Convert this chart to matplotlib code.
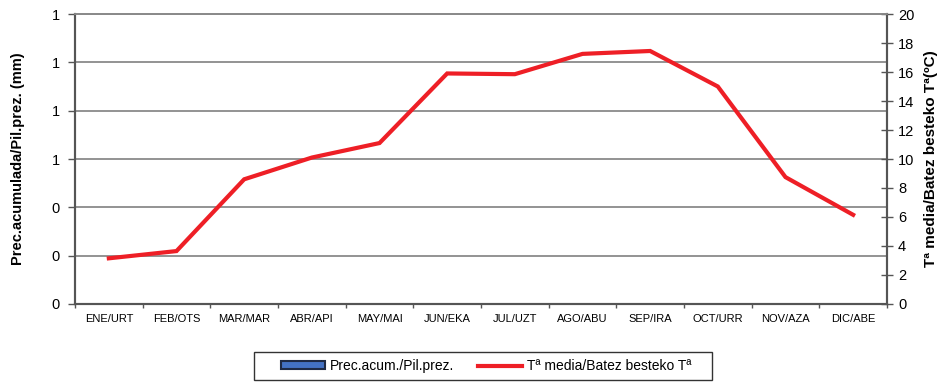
import matplotlib
matplotlib.use("Agg")
import matplotlib.pyplot as plt
import numpy as np
from matplotlib.patches import Patch, Rectangle
from matplotlib.lines import Line2D
from matplotlib.ticker import FormatStrFormatter, MultipleLocator

plt.rcParams["font.family"] = ["Liberation Sans", "DejaVu Sans"]

# ── Data ──────────────────────────────────────────────────────────────────────
months = ["ENE/URT", "FEB/OTS", "MAR/MAR", "ABR/API", "MAY/MAI", "JUN/EKA",
          "JUL/UZT", "AGO/ABU", "SEP/IRA", "OCT/URR", "NOV/AZA", "DIC/ABE"]
precip = [0, 0, 0, 0, 0, 0, 0, 0, 0, 0, 0, 0]
temp = [3.15, 3.65, 8.6, 10.1, 11.1, 15.9, 15.85, 17.25, 17.45, 15.0, 8.75, 6.15]

# ── Colours ───────────────────────────────────────────────────────────────────
RED = "#ee1f26"
BAR_FILL = "#4472c4"
BAR_EDGE = "#1f2a44"
GRID = "#8a8a8a"
SPINE = "#555555"

fig = plt.figure(figsize=(9.4, 3.83), dpi=100)
ax = fig.add_axes([0.0798, 0.2063, 0.8638, 0.7571])
ax2 = ax.twinx()

x = np.arange(len(months))

# precipitation bars (left axis)
ax.bar(x, precip, width=0.5, color=BAR_FILL, linewidth=0, zorder=2)
ax.set_ylim(0, 1.2)
ax.yaxis.set_major_locator(MultipleLocator(0.2))
ax.yaxis.set_major_formatter(FormatStrFormatter("%.0f"))
ax.grid(axis="y", color=GRID, linewidth=1.3, zorder=0)
ax.set_axisbelow(True)
ax.set_xlim(-0.5, len(months) - 0.5)
ax.set_xticks(np.arange(-0.5, len(months), 1.0))
ax.set_xticks(x, minor=True)
ax.set_xticklabels([])
ax.set_xticklabels(months, minor=True)
ax.tick_params(axis="x", which="major", length=3, width=1, color=SPINE)
ax.tick_params(axis="x", which="minor", length=0, labelsize=8, pad=7)
ax.tick_params(axis="y", length=5, width=1, color=SPINE, labelsize=10.5, pad=6)
ax.set_ylabel("Prec.acumulada/Pil.prez. (mm)", fontsize=10.5, fontweight="bold",
              labelpad=19)

# temperature line (right axis)
ax2.plot(x, temp, color=RED, linewidth=3, solid_joinstyle="miter", zorder=3)
ax2.set_ylim(0, 20)
ax2.yaxis.set_major_locator(MultipleLocator(2))
ax2.tick_params(axis="y", direction="inout", length=8, width=1, color=SPINE,
                labelsize=10.5, pad=4)
ax2.set_ylabel("Tª media/Batez besteko Tª(ºC)", fontsize=11, fontweight="bold",
               labelpad=7)

for a in (ax, ax2):
    for side in ("left", "right", "bottom"):
        a.spines[side].set_color(SPINE)
        a.spines[side].set_linewidth(1.5)
    a.spines["top"].set_color(GRID)
    a.spines["top"].set_linewidth(1.3)

# ── Legend ────────────────────────────────────────────────────────────────────
handles = [
    Patch(facecolor=BAR_FILL, edgecolor=BAR_EDGE, linewidth=1.5),
    Line2D([0], [0], color=RED, linewidth=3),
]
labels = ["Prec.acum./Pil.prez.", "Tª media/Batez besteko Tª"]
fig.legend(handles, labels, loc="center", bbox_to_anchor=(0.517, 0.044),
           ncol=2, fontsize=10, frameon=False,
           handlelength=3.2, handleheight=0.55, handletextpad=0.35,
           columnspacing=1.7)
# wide frame around the legend
fig.patches.append(Rectangle((254 / 940, 3 / 383), 458 / 940, 28 / 383,
                             transform=fig.transFigure, fill=False,
                             edgecolor="#333333", linewidth=1.0))

fig.savefig("out.png", dpi=100)
